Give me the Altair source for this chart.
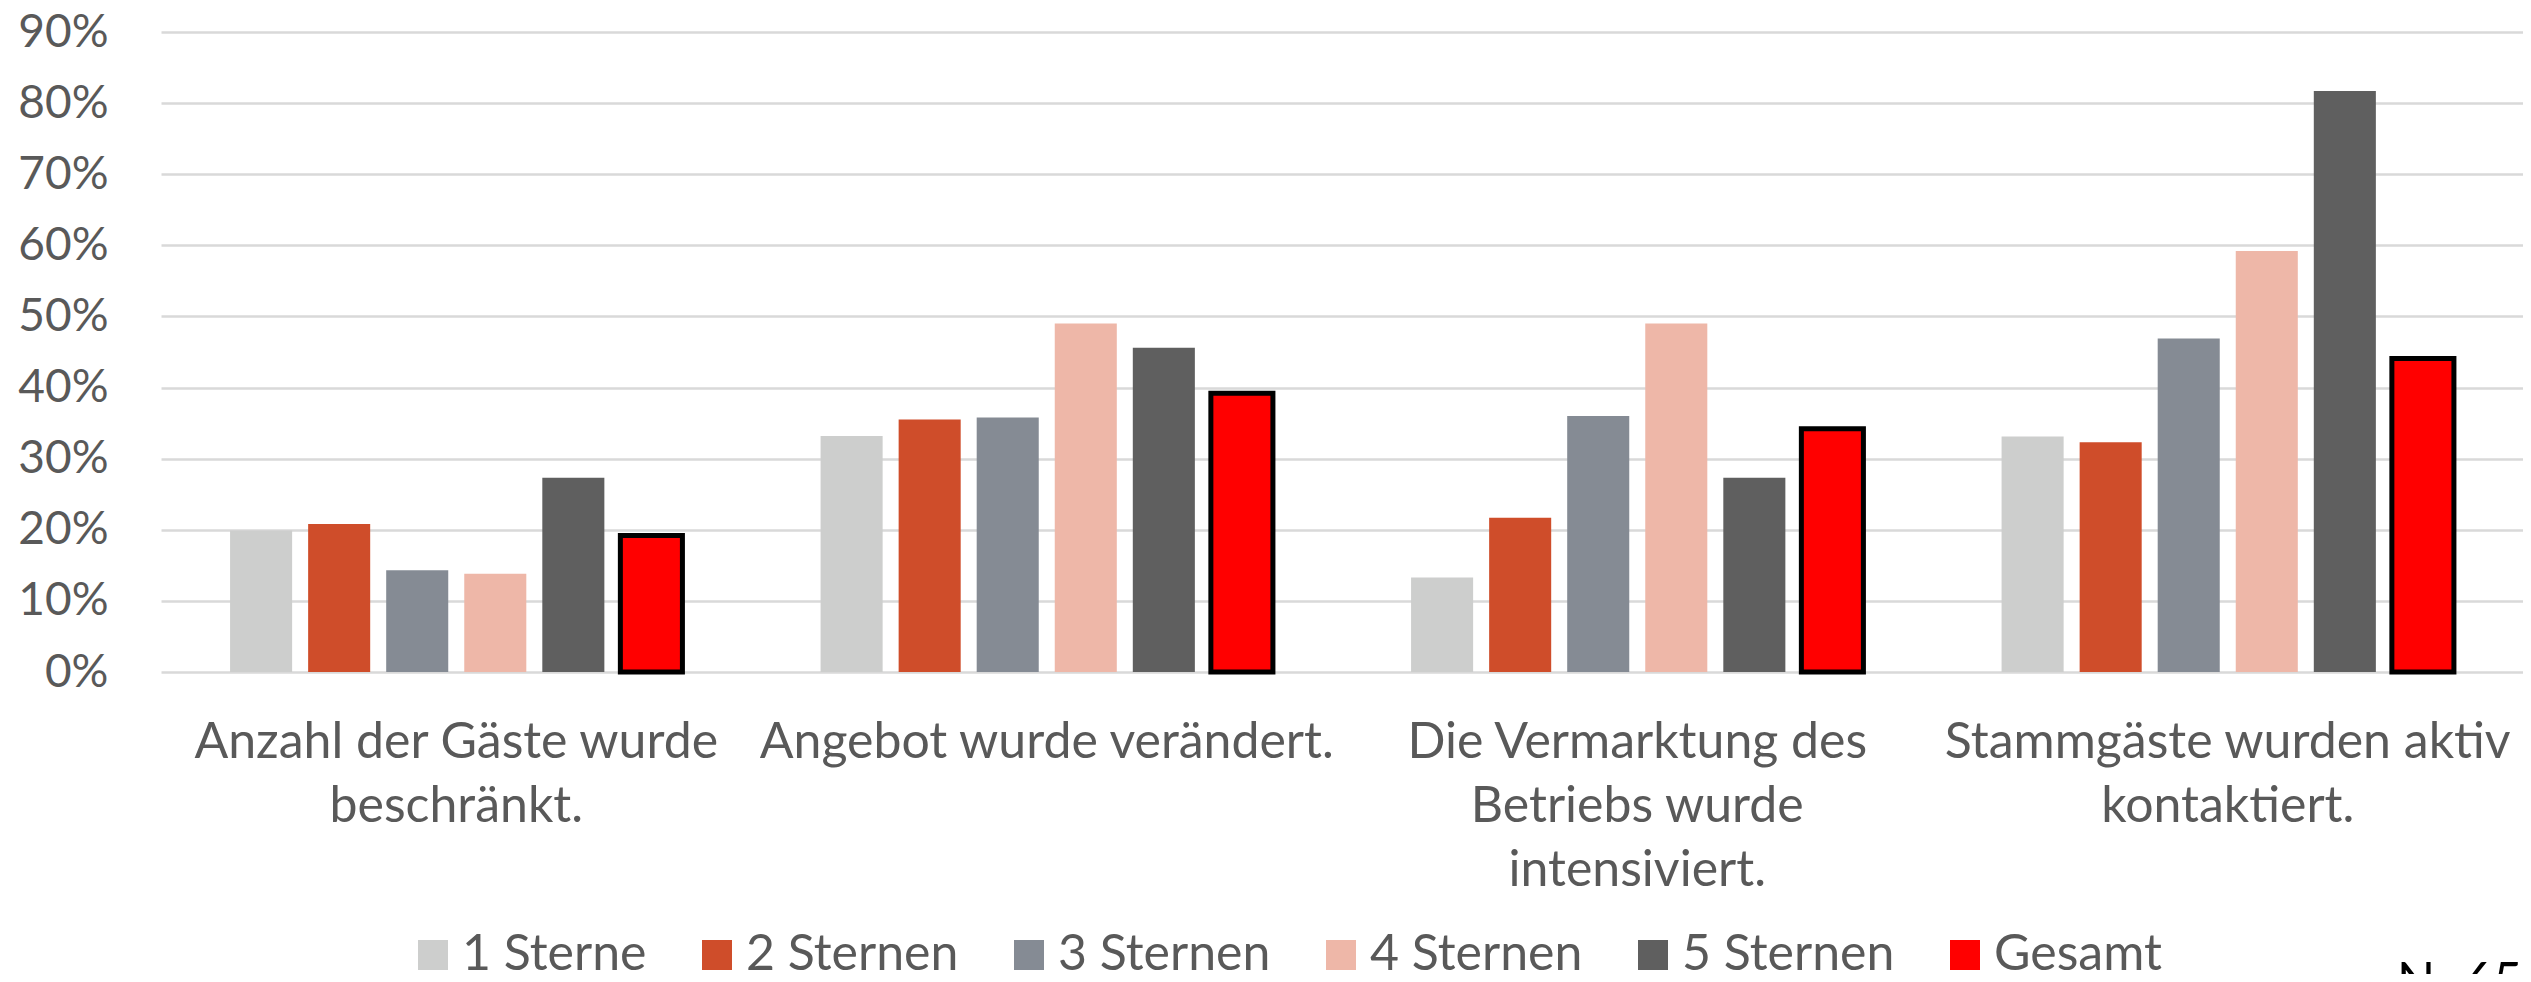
import altair as alt
import pandas as pd

categories = [
    "Anzahl der Gäste wurde\nbeschränkt.",
    "Angebot wurde verändert.",
    "Die Vermarktung des\nBetriebs wurde\nintensiviert.",
    "Stammgäste wurden aktiv\nkontaktiert.",
]
stars = ["1 Sterne", "2 Sternen", "3 Sternen", "4 Sternen", "5 Sternen", "Gesamt"]
colors = ["#CDCECD", "#CF4D2A", "#858B94", "#EEB7A8", "#5F5F5F", "#FF0000"]

s1 = [0.199, 0.332, 0.133, 0.331]
s2 = [0.208, 0.355, 0.217, 0.323]
s3 = [0.143, 0.358, 0.360, 0.469]
s4 = [0.138, 0.490, 0.490, 0.592]
s5 = [0.273, 0.456, 0.273, 0.817]
gesamt = [0.192, 0.392, 0.342, 0.441]
series = [s1, s2, s3, s4, s5, gesamt]

note = "N=659"

rows = []
for name, vals in zip(stars, series):
    for cat, v in zip(categories, vals):
        rows.append({"Category": cat, "Stars": name, "Value": v})
df = pd.DataFrame(rows)

FONT = "Lato"
W = 2362
H = 640

bars = alt.Chart(df).mark_bar(strokeJoin="miter").encode(
    x=alt.X(
        "Category:N",
        sort=categories,
        scale=alt.Scale(paddingInner=0, paddingOuter=0),
        axis=alt.Axis(
            title=None,
            labelExpr="split(datum.label, '\\n')",
            labelAngle=0,
            labelFont=FONT,
            labelFontSize=50,
            labelLineHeight=64,
            labelColor="#595959",
            labelPadding=45,
            labelLimit=0,
            labelOverlap=False,
            ticks=False,
            domain=False,
            grid=False,
        ),
    ),
    xOffset=alt.XOffset(
        "Stars:N", sort=stars,
        scale=alt.Scale(paddingInner=0.205, paddingOuter=0.885),
    ),
    y=alt.Y(
        "Value:Q",
        scale=alt.Scale(domain=[0, 0.9], nice=False),
        axis=alt.Axis(
            title=None,
            format=".0%",
            values=[0, 0.1, 0.2, 0.3, 0.4, 0.5, 0.6, 0.7, 0.8, 0.9],
            labelFont=FONT,
            labelFontSize=46,
            labelColor="#595959",
            labelPadding=53,
            ticks=False,
            domain=False,
            grid=True,
            gridColor="#D9D9D9",
            gridWidth=2.5,
        ),
    ),
    color=alt.Color(
        "Stars:N",
        sort=stars,
        scale=alt.Scale(domain=stars, range=colors),
        legend=alt.Legend(
            title=None,
            orient="none",
            direction="horizontal",
            legendX=247,
            legendY=898,
            symbolType="square",
            symbolSize=900,
            symbolStrokeWidth=0,
            symbolOpacity=1,
            labelFont=FONT,
            labelFontSize=50,
            labelColor="#595959",
            labelOffset=4,
            columnPadding=45,
            labelLimit=0,
        ),
    ),
    stroke=alt.value("#000000"),
    strokeWidth=alt.condition(alt.datum.Stars == "Gesamt", alt.value(5), alt.value(0)),
)

note_layer = alt.Chart(alt.Data(values=[{"t": note}])).mark_text(
    align="left", baseline="alphabetic", font=FONT, fontSize=50, color="#000000"
).encode(
    text="t:N",
    x=alt.value(2236),
    y=alt.value(966),
)

chart = alt.layer(bars, note_layer).properties(
    width=W,
    height=H,
    autosize=alt.AutoSizeParams(type="none"),
    padding={"left": 153, "top": 24, "right": 0, "bottom": 302},
    background="white",
).configure_view(stroke=None)

chart.save("out.html", embed_options={"renderer": "svg", "actions": False})
